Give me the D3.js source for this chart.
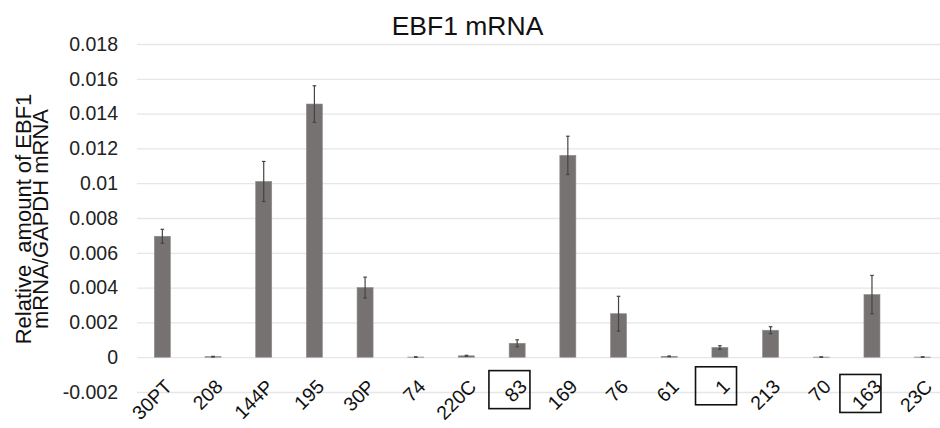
<!DOCTYPE html>
<html>
<head>
<meta charset="utf-8">
<script src="https://cdn.jsdelivr.net/npm/d3@7"></script>
<style>
  body { margin: 0; background: #fff; }
  svg { display: block; font-family: "Liberation Sans", Arial, sans-serif; }
</style>
</head>
<body>
<svg width="940" height="428"></svg>
<script>
const categories = ["30PT", "208", "144P", "195", "30P", "74", "220C", "83", "169", "76", "61", "1", "213", "70", "163", "23C"];
const means = [0.00695, 0.00003, 0.0101, 0.01455, 0.0040, 0.00001, 0.00008, 0.0008, 0.0116, 0.0025, 0.00005, 0.00056, 0.00155, 0.00001, 0.0036, 0.00001];
const errors = [0.0004, 0.00002, 0.00115, 0.00105, 0.0006, 0.00001, 0.00003, 0.0002, 0.0011, 0.001, 0.00002, 0.0001, 0.0002, 0.00001, 0.0011, 0.00001];
const yTicks = [-0.002, 0, 0.002, 0.004, 0.006, 0.008, 0.01, 0.012, 0.014, 0.016, 0.018];
const boxedLabels = ["83", "1", "163"];

const svg = d3.select("svg");
const left = 137, right = 940;

const x = d3.scaleBand()
    .domain(categories)
    .range([left, 948])
    .paddingInner(0.684)
    .paddingOuter(0.342);

const y = d3.scaleLinear()
    .domain([-0.002, 0.018])
    .range([392, 44]);

// gridlines + tick labels
const yAxis = svg.append("g")
    .attr("transform", `translate(${left},0)`)
    .call(d3.axisLeft(y)
        .tickValues(yTicks)
        .tickSize(-(right - left))
        .tickPadding(19)
        .tickFormat(d => d === 0 ? "0" : String(+d.toFixed(3))));
yAxis.select(".domain").remove();
yAxis.selectAll(".tick line").attr("stroke", "#e6e6e6").attr("stroke-width", 1.3);
yAxis.selectAll(".tick text")
    .attr("fill", "#222")
    .style("font-size", "19.5px")
    .style("font-family", "'Liberation Sans', Arial, sans-serif");

const data = categories.map((c, i) => ({ cat: c, mean: means[i], err: errors[i] }));

// bars
svg.append("g").selectAll("rect")
    .data(data)
    .enter()
    .append("rect")
    .attr("x", d => x(d.cat))
    .attr("width", x.bandwidth())
    .attr("y", d => y(d.mean))
    .attr("height", d => y(0) - y(d.mean))
    .attr("fill", "#777272")
    .attr("stroke", "#8f8a8a")
    .attr("stroke-width", 0.6);

// error bars
const eb = svg.append("g")
    .attr("stroke", "#444")
    .attr("stroke-width", 1.2)
    .selectAll("g")
    .data(data)
    .enter()
    .append("g")
    .attr("transform", d => `translate(${x(d.cat) + x.bandwidth() / 2},0)`);

eb.append("line")
    .attr("y1", d => y(d.mean + d.err))
    .attr("y2", d => y(d.mean - d.err));
eb.append("line")
    .attr("x1", -1.8).attr("x2", 1.8)
    .attr("y1", d => y(d.mean + d.err))
    .attr("y2", d => y(d.mean + d.err));
eb.append("line")
    .attr("x1", -1.8).attr("x2", 1.8)
    .attr("y1", d => y(d.mean - d.err))
    .attr("y2", d => y(d.mean - d.err));

// category labels, rotated -45deg, top-right corner just under the bar
const labelG = svg.append("g").selectAll("g")
    .data(categories)
    .enter()
    .append("g")
    .attr("transform", d => "translate(" + (x(d) + x.bandwidth() / 2 + 1) + ",378) rotate(-45)");

labelG.append("text")
    .attr("text-anchor", "end")
    .attr("dy", "0.72em")
    .attr("fill", "#111")
    .style("font-size", "19.5px")
    .text(d => d);

// boxes around highlighted labels (hand-drawn look in the original)
labelG.filter(d => boxedLabels.includes(d)).each(function (d) {
    const cx = x(d) + x.bandwidth() / 2 + 1;
    const len = this.querySelector("text").getComputedTextLength();
    // centre of the rotated label
    const mx = cx - len / 2 * Math.SQRT1_2 + 7 * Math.SQRT1_2;
    const my = 378 + len / 2 * Math.SQRT1_2 + 7 * Math.SQRT1_2;
    svg.append("rect")
        .attr("x", mx - 6 - 20.5)
        .attr("y", my - 1 - 19)
        .attr("width", 41)
        .attr("height", 38)
        .attr("fill", "none")
        .attr("stroke", "#111")
        .attr("stroke-width", 1.6);
});

// title
svg.append("text")
    .attr("x", 467.5)
    .attr("y", 35)
    .attr("text-anchor", "middle")
    .attr("fill", "#111")
    .style("font-size", "26.5px")
    .text("EBF1 mRNA");

// y-axis title, two lines
const yTitle = svg.append("text")
    .attr("transform", "translate(30.5,219) rotate(-90)")
    .attr("text-anchor", "middle")
    .attr("fill", "#111")
    .style("font-size", "22px")
    .style("white-space", "pre");
yTitle.append("tspan").attr("x", 0).attr("y", 0).text("Relative  amount of EBF1");
yTitle.append("tspan").attr("x", 0).attr("y", 17.8).text("mRNA/GAPDH mRNA");
</script>
</body>
</html>
